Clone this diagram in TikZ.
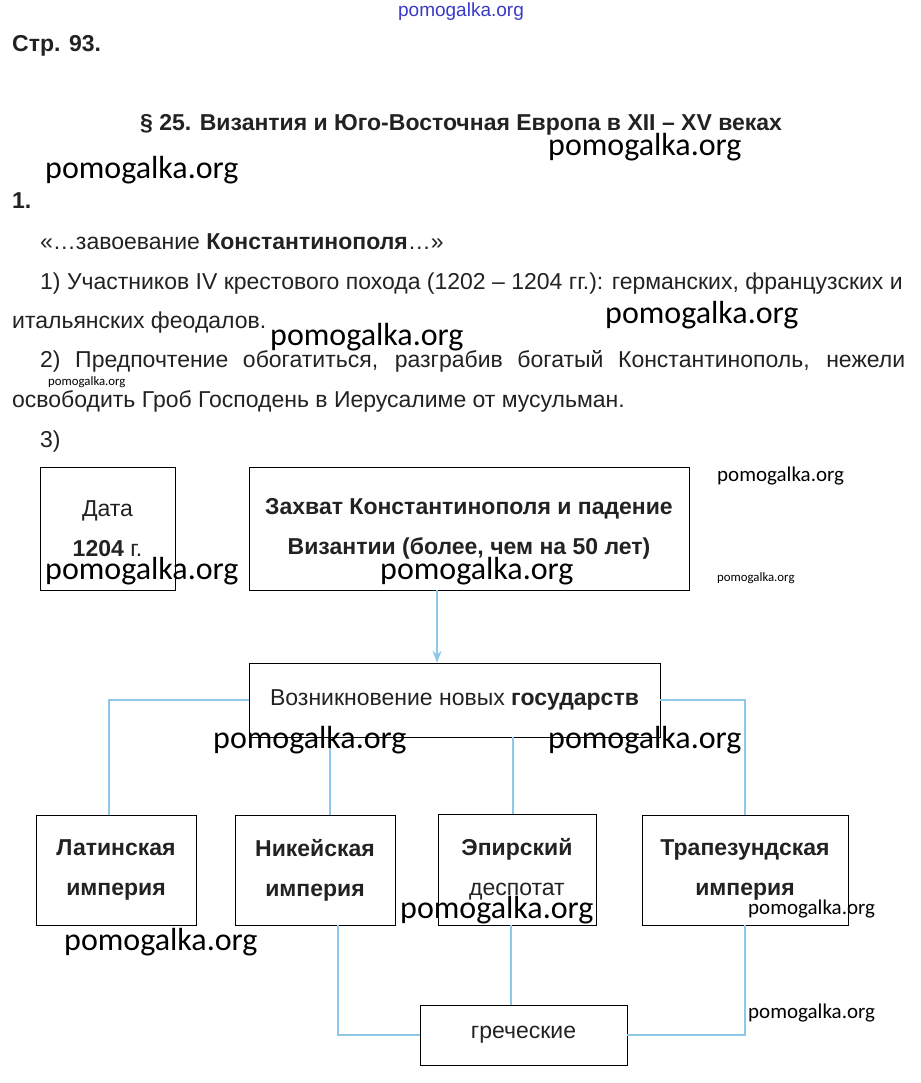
\documentclass[tikz,border=0pt]{standalone}
\usepackage{fontspec}
\setmainfont{Liberation Sans}
\newfontfamily\wmfont{Carlito}
\definecolor{linkblue}{HTML}{8DC8E8}
\definecolor{wmblue}{HTML}{3A3AC8}
\definecolor{inkgray}{HTML}{222222}
\usetikzlibrary{arrows.meta, positioning, calc}

\begin{document}
\begin{tikzpicture}[x=1pt, y=-1pt, >=Stealth,
  every node/.style={inner sep=0pt, text=inkgray},
  body/.style={anchor=base west, font=\fontsize{23}{27}\selectfont},
  boldbody/.style={body, font=\bfseries\fontsize{23}{27}\selectfont},
  box/.style={draw, thin, align=center, font=\fontsize{23}{40}\selectfont},
  boldbox/.style={box, font=\bfseries\fontsize{23}{40}\selectfont},
  link/.style={draw=linkblue, line width=2pt},
  wmbig/.style={anchor=west, text=black, font=\wmfont\fontsize{32}{32}\selectfont},
  wmmid/.style={anchor=west, text=black, font=\wmfont\fontsize{21}{21}\selectfont},
  wmsmall/.style={anchor=west, text=black, font=\wmfont\fontsize{12.8}{13}\selectfont}]
  \useasboundingbox[fill=white] (0,0) rectangle (920,1083);

  % page text
  \node[text=wmblue, font=\fontsize{19}{19}\selectfont] (topmark) at (461,12) {pomogalka.org};
  \node[boldbody] (page) at (12,52) {Стр. 93.};
  \node[boldbody] (title) at (140,131) {§ 25. Византия и Юго-Восточная Европа в XII – XV веках};
  \node[boldbody] (task) at (12,209) {1.};
  \node[body] (quote) at (40,249) {«…завоевание \textbf{Константинополя}…»};
  \node[body] (ans1) at (40,289) {1) Участников IV крестового похода (1202 – 1204 гг.): германских, французских и};
  \node[body] (ans1b) at (12,328) {итальянских феодалов.};
  \node[body] (ans2) at (40,367) {\makebox[865pt][s]{2) Предпочтение обогатиться, разграбив богатый Константинополь, нежели}};
  \node[body] (ans2b) at (12,407) {освободить Гроб Господень в Иерусалиме от мусульман.};
  \node[body] (ans3) at (40,447) {3)};

  % scheme
  \node[box, minimum width=135, minimum height=123] (date) at (107.5,528.5) {Дата\\\textbf{1204} г.};
  \node[boldbox, minimum width=440, minimum height=123] (fall) at (469,528.5) {Захват Константинополя и падение\\Византии (более, чем на 50 лет)};
  \node[box, minimum width=411, minimum height=74] (newst) at (454.5,700) {Возникновение новых \textbf{государств}};
  \node[boldbox, minimum width=160, minimum height=110] (latin) at (116,870) {Латинская\\империя};
  \node[boldbox, minimum width=160, minimum height=110] (nicaea) at (315,870) {Никейская\\империя};
  \node[box, minimum width=158, minimum height=111] (epirus) at (517,869.5) {\textbf{Эпирский}\\деспотат};
  \node[boldbox, minimum width=206, minimum height=110] (trebizond) at (745,870) {Трапезундская\\империя};
  \node[box, minimum width=207, minimum height=60] (greek) at (523.5,1035) {греческие};

  \draw[link, ->] ([xshift=-32pt]fall.south) -- ([xshift=-32pt]fall.south |- newst.north);
  \draw[link] (newst.west) -| ([xshift=-7pt]latin.north);
  \draw[link] (newst.east) -| (trebizond.north);
  \draw[link] ([xshift=15pt]nicaea.north) -- ([xshift=15pt]nicaea.north |- newst.south);
  \draw[link] ([xshift=-4pt]epirus.north) -- ([xshift=-4pt]epirus.north |- newst.south);
  \draw[link] ([xshift=23pt]nicaea.south) |- (greek.west);
  \draw[link] ([xshift=-6pt]epirus.south) -- ([xshift=-6pt]epirus.south |- greek.north);
  \draw[link] (trebizond.south) |- (greek.east);

  % watermarks
  \node[wmbig] (wm1) at (548,147) {pomogalka.org};
  \node[wmbig] (wm2) at (45,170) {pomogalka.org};
  \node[wmbig] (wm3) at (605,315) {pomogalka.org};
  \node[wmbig] (wm4) at (270,337) {pomogalka.org};
  \node[wmsmall] (wm5) at (48,382) {pomogalka.org};
  \node[wmmid] (wm6) at (717,476) {pomogalka.org};
  \node[wmbig] (wm7) at (45,571) {pomogalka.org};
  \node[wmbig] (wm8) at (380,571) {pomogalka.org};
  \node[wmsmall] (wm9) at (717,578) {pomogalka.org};
  \node[wmbig] (wm10) at (213,740) {pomogalka.org};
  \node[wmbig] (wm11) at (548,740) {pomogalka.org};
  \node[wmbig] (wm12) at (400,910) {pomogalka.org};
  \node[wmmid] (wm13) at (748,909) {pomogalka.org};
  \node[wmbig] (wm14) at (64,942) {pomogalka.org};
  \node[wmmid] (wm15) at (748,1013) {pomogalka.org};
\end{tikzpicture}
\end{document}
